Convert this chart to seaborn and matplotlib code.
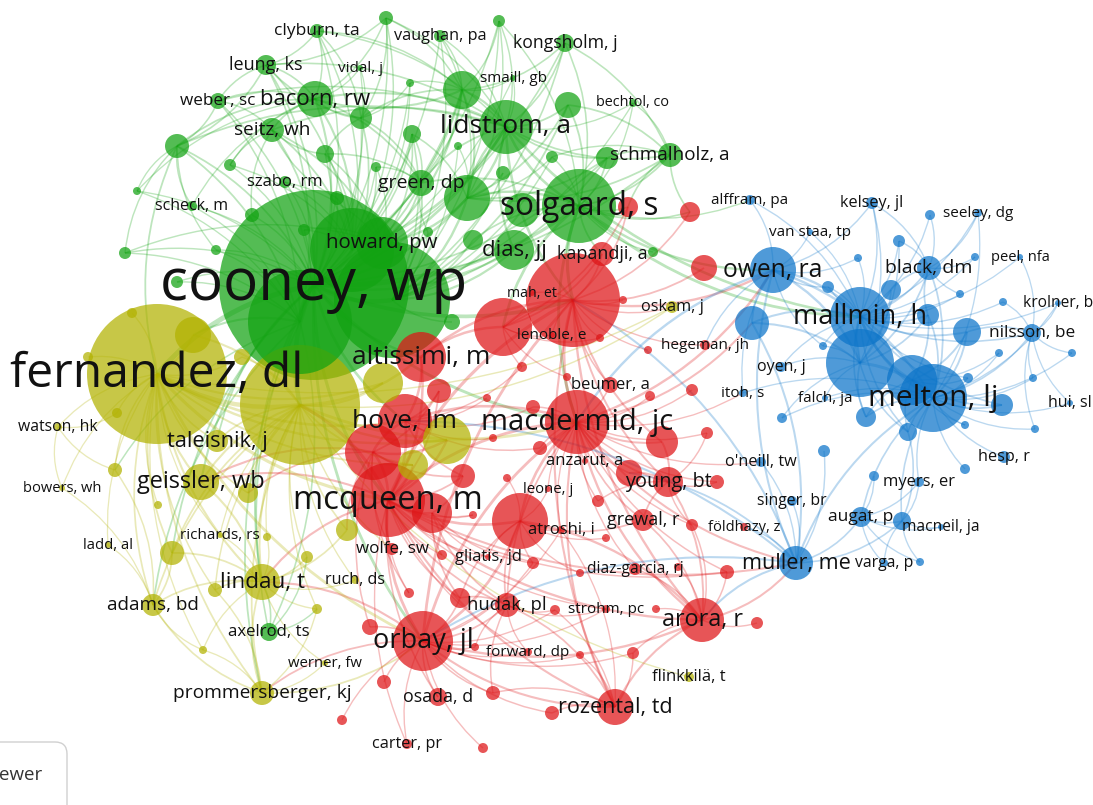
import numpy as np
import pandas as pd
import matplotlib
matplotlib.use("Agg")
import matplotlib.pyplot as plt
from matplotlib.path import Path
from matplotlib.patches import PathPatch, FancyBboxPatch
import seaborn as sns

# nodes: (name, x, y, radius, label size); names starting with "_" carry no label
green_nodes = [
    ("cooney, wp", 314, 285, 95, 42), ("_gb1", 392, 300, 58, 0), ("_gb2", 300, 322, 52, 0),
    ("_gb3", 352, 250, 42, 0), ("howard, pw", 382, 243, 26, 14.7), ("green, dp", 421, 183, 13, 14),
    ("_g3", 467, 198, 23, 0), ("lidstrom, a", 506, 127, 27, 19), ("_g4", 462, 90, 19, 0),
    ("_g5", 568, 105, 13, 0), ("solgaard, s", 579, 206, 37, 22.8), ("_g6", 522, 210, 17, 0),
    ("dias, jj", 514, 250, 20, 15.9), ("bacorn, rw", 315, 99, 18, 15.9), ("leung, ks", 266, 65, 10, 13),
    ("clyburn, ta", 317, 31, 7, 12.5), ("weber, sc", 218, 101, 8, 12.3), ("seitz, wh", 272, 130, 12, 13.7),
    ("_g7", 177, 146, 12, 0), ("_g8", 325, 154, 9, 0), ("_g9", 230, 165, 6, 0),
    ("szabo, rm", 285, 182, 6, 12), ("scheck, m", 192, 206, 5, 11.5), ("_g10", 137, 191, 4, 0),
    ("_g11", 125, 253, 6, 0), ("_g12", 216, 250, 5, 0), ("_g31", 252, 215, 7, 0),
    ("_g32", 304, 230, 6, 0), ("_g33", 337, 198, 7, 0), ("vaughan, pa", 440, 36, 6, 11.7),
    ("_g13", 386, 18, 7, 0), ("_g14", 499, 21, 6, 0), ("kongsholm, j", 565, 43, 9, 12.7),
    ("vidal, j", 360, 68, 3, 11), ("_g15", 410, 83, 4, 0), ("smaill, gb", 513, 78, 3, 11),
    ("bechtol, co", 633, 103, 4, 10.4), ("schmalholz, a", 670, 155, 12, 13.6), ("_g16", 607, 158, 11, 0),
    ("_g17", 552, 157, 6, 0), ("_g18", 412, 134, 9, 0), ("_g19", 361, 118, 11, 0),
    ("_g20", 503, 173, 7, 0), ("_g21", 376, 167, 5, 0), ("_g22", 458, 146, 4, 0),
    ("_g24", 473, 240, 10, 0), ("_g25", 428, 232, 5, 0), ("_g26", 653, 252, 5, 0),
    ("_g29", 177, 282, 6, 0), ("_g34", 452, 322, 8, 0), ("axelrod, ts", 269, 632, 9, 12.1),
]

red_nodes = [
    ("_rbig", 573, 300, 47, 0), ("kapandji, a", 602, 254, 12, 13), ("_r2", 503, 327, 29, 0),
    ("mah, et", 532, 293, 3, 10.2), ("lenoble, e", 552, 335, 3, 11), ("altissimi, m", 421, 357, 25, 19),
    ("hove, lm", 405, 421, 27, 19), ("_r3", 373, 452, 28, 0), ("mcqueen, m", 388, 500, 37, 23.5),
    ("_r4", 432, 513, 20, 0), ("_r5", 439, 391, 12, 0), ("_r6", 463, 476, 12, 0),
    ("_r7", 520, 521, 28, 0), ("atroshi, i", 561, 530, 4, 12), ("macdermid, jc", 577, 422, 32, 21),
    ("_r8", 662, 442, 16, 0), ("young, bt", 668, 482, 15, 14.3), ("_r9", 629, 473, 13, 0),
    ("_r10", 717, 482, 7, 0), ("grewal, r", 643, 520, 11, 13), ("_r11", 692, 525, 6, 0),
    ("_r12", 598, 501, 6, 0), ("_r13", 606, 538, 4, 0), ("_r14", 707, 433, 6, 0),
    ("_r15", 692, 390, 6, 0), ("_r16", 650, 396, 5, 0), ("_r17", 648, 350, 4, 0),
    ("_r18", 623, 300, 4, 0), ("hegeman, jh", 705, 345, 5, 11), ("_r20", 727, 572, 7, 0),
    ("_r21", 580, 573, 4, 0), ("_r22", 533, 563, 6, 0), ("_r23", 442, 555, 5, 0),
    ("_r24", 555, 610, 5, 0), ("strohm, pc", 606, 609, 4, 11), ("_r25", 656, 609, 4, 0),
    ("_r26", 460, 598, 10, 0), ("hudak, pl", 507, 605, 12, 13.2), ("_r27", 370, 627, 8, 0),
    ("_r28", 409, 593, 5, 0), ("_r29", 475, 647, 4, 0), ("forward, dp", 528, 652, 4, 11),
    ("_r30", 580, 655, 4, 0), ("_r31", 633, 653, 6, 0), ("_r32", 384, 682, 7, 0),
    ("osada, d", 438, 697, 9, 12.8), ("_r33", 493, 693, 7, 0), ("_r34", 552, 713, 7, 0),
    ("carter, pr", 407, 744, 5, 11.7), ("_r35", 483, 748, 5, 0), ("_r36", 757, 623, 6, 0),
    ("_r37", 342, 720, 5, 0), ("orbay, jl", 423, 641, 30, 19.5), ("arora, r", 702, 620, 22, 16.8),
    ("rozental, td", 615, 707, 18, 15.5), ("diaz-garcia, rj", 635, 569, 6, 11.2), ("_r38", 678, 567, 4, 0),
    ("_r39", 628, 207, 10, 0), ("_r40", 690, 212, 10, 0), ("_r41", 704, 268, 13, 0),
    ("_r42", 522, 367, 5, 0), ("_r43", 567, 377, 4, 0), ("beumer, a", 610, 385, 8, 12),
    ("_r44", 487, 398, 4, 0), ("_r45", 533, 407, 7, 0), ("_r46", 493, 438, 4, 0),
    ("_r47", 540, 448, 7, 0), ("_r48", 507, 478, 4, 0), ("_r49", 473, 515, 4, 0),
    ("_r50", 600, 338, 4, 0), ("wolfe, sw", 392, 549, 6, 12.2), ("gliatis, jd", 488, 557, 3, 11.8),
    ("anzarut, a", 585, 461, 3, 12), ("leone, j", 548, 489, 3, 10.7), ("földhazy, z", 744, 527, 4, 10.5),
]

blue_nodes = [
    ("mallmin, h", 860, 317, 30, 19.6), ("_b1", 860, 363, 34, 0), ("melton, lj", 933, 398, 34, 21.6),
    ("_b2", 912, 380, 25, 0), ("owen, ra", 773, 270, 23, 17.7), ("_b3", 752, 323, 17, 0),
    ("black, dm", 929, 268, 12, 14), ("_b4", 891, 290, 10, 0), ("_b5", 928, 315, 11, 0),
    ("_b6", 967, 332, 14, 0), ("nilsson, be", 1032, 333, 9, 12.4), ("_b7", 1002, 405, 11, 0),
    ("_b8", 866, 417, 10, 0), ("_b9", 908, 432, 9, 0), ("kelsey, jl", 872, 203, 6, 11.6),
    ("_b10", 930, 215, 5, 0), ("seeley, dg", 978, 213, 4, 11), ("_b11", 899, 241, 6, 0),
    ("_b12", 858, 258, 4, 0), ("_b13", 975, 257, 4, 0), ("peel, nfa", 1020, 257, 3, 10.5),
    ("_b14", 960, 294, 4, 0), ("_b15", 1003, 302, 4, 0), ("krolner, b", 1058, 303, 3, 11.2),
    ("_b16", 1072, 353, 4, 0), ("_b17", 999, 353, 4, 0), ("_b18", 968, 378, 5, 0),
    ("_b19", 1033, 378, 4, 0), ("hui, sl", 1070, 403, 3, 11.5), ("_b20", 965, 425, 4, 0),
    ("_b21", 1035, 429, 4, 0), ("_b22", 828, 287, 6, 0), ("_b23", 823, 346, 4, 0),
    ("oyen, j", 781, 367, 5, 11.5), ("itoh, s", 743, 393, 4, 11), ("alffram, pa", 750, 200, 5, 11),
    ("van staa, tp", 810, 232, 3, 11), ("_b24", 782, 418, 5, 0), ("falch, ja", 825, 398, 3, 11),
    ("_b27", 824, 451, 6, 0), ("o'neill, tw", 761, 462, 5, 11.7), ("singer, br", 792, 501, 5, 11.3),
    ("augat, p", 861, 517, 10, 12.5), ("_b28", 902, 521, 9, 0), ("myers, er", 919, 482, 5, 11.9),
    ("_b29", 874, 476, 5, 0), ("_b30", 965, 469, 5, 0), ("hesp, r", 1004, 457, 6, 11.7),
    ("varga, p", 884, 563, 4, 11.3), ("_b31", 920, 562, 4, 0), ("macneil, ja", 941, 527, 3, 11.2),
    ("muller, me", 796, 563, 17, 15.6),
]

yellow_nodes = [
    ("fernandez, dl", 157, 374, 70, 34.6), ("_ybig", 300, 405, 60, 0), ("taleisnik, j", 217, 441, 11, 15.7),
    ("geissler, wb", 201, 482, 18, 16.9), ("_y1", 248, 493, 10, 0), ("_y2", 115, 470, 7, 0),
    ("watson, hk", 58, 427, 4, 11.3), ("bowers, wh", 62, 488, 3, 10.5), ("_y3", 158, 505, 4, 0),
    ("_y4", 193, 335, 18, 0), ("_y5", 132, 313, 5, 0), ("_y6", 88, 357, 5, 0),
    ("_y7", 242, 357, 8, 0), ("_y8", 117, 413, 5, 0), ("_y9", 383, 383, 20, 0),
    ("_y10", 447, 440, 24, 0), ("_y11", 413, 465, 15, 0), ("_y12", 347, 530, 11, 0),
    ("_y13", 307, 557, 6, 0), ("lindau, t", 262, 582, 18, 16.2), ("adams, bd", 153, 605, 11, 13.6),
    ("_y14", 172, 553, 12, 0), ("_y15", 215, 590, 7, 0), ("_y17", 317, 609, 5, 0),
    ("richards, rs", 220, 535, 3, 11), ("_y18", 267, 537, 4, 0), ("_y19", 203, 650, 4, 0),
    ("prommersberger, kj", 262, 693, 12, 13.8), ("ladd, al", 108, 545, 3, 10.7), ("oskam, j", 672, 307, 6, 11.7),
    ("flinkkilä, t", 689, 677, 5, 12), ("ruch, ds", 355, 580, 4, 11.6), ("werner, fw", 325, 663, 3, 10.7),
]

# co-authorship links: node -> linked nodes
links = {
    "cooney, wp": ["_gb1", "_gb2", "_gb3", "howard, pw", "green, dp", "_g3", "lidstrom, a", "_g4",
                   "solgaard, s", "dias, jj", "bacorn, rw", "leung, ks", "clyburn, ta", "weber, sc",
                   "seitz, wh", "_g7", "_g8", "_g9", "szabo, rm", "scheck, m", "_g10", "_g11", "_g12",
                   "vaughan, pa", "_g13", "_g14", "kongsholm, j", "vidal, j", "smaill, gb", "schmalholz, a",
                   "_g16", "_g19", "_g18", "_g29", "_g31", "fernandez, dl", "_ybig", "altissimi, m",
                   "hove, lm", "mcqueen, m", "lindau, t", "geissler, wb", "taleisnik, j", "_rbig",
                   "macdermid, jc", "orbay, jl", "axelrod, ts", "_y14", "_g15", "_g21", "_g33"],
    "_gb1": ["_g3", "_g24", "dias, jj", "_g34", "green, dp", "_g18", "_g20", "_g22", "_g6",
             "kongsholm, j", "_g5", "_g16", "_g25", "_g17", "_g14", "vaughan, pa", "bechtol, co"],
    "_gb2": ["_g11", "_g29", "_y4", "_g12", "_g7", "_g10", "adams, bd", "_y2", "prommersberger, kj",
             "_g32", "scheck, m", "weber, sc", "leung, ks"],
    "_gb3": ["_g8", "_g18", "_g19", "_g21", "_g33", "_g32", "seitz, wh", "bacorn, rw", "_g4",
             "lidstrom, a", "_g9", "szabo, rm", "leung, ks", "_g13", "clyburn, ta", "_g15"],
    "_g3": ["_g4", "_g18", "_g22", "_g20", "lidstrom, a", "_g5", "_g16", "_g17", "schmalholz, a",
            "_g14", "vaughan, pa"],
    "green, dp": ["_g8", "_g19", "_g18", "_g4", "bacorn, rw", "_g21", "_g25"],
    "_g19": ["_g13", "clyburn, ta", "vidal, j", "_g15", "_g8"],
    "schmalholz, a": ["_g16", "_g17", "_g5", "bechtol, co", "kongsholm, j", "_r39", "_r40"],
    "lidstrom, a": ["solgaard, s", "_g4", "_g5", "kongsholm, j", "_g14", "bechtol, co", "schmalholz, a",
                    "_g16", "bacorn, rw", "leung, ks", "clyburn, ta", "_g13", "vaughan, pa", "green, dp",
                    "_g3", "seitz, wh", "_g7", "weber, sc", "dias, jj", "_rbig", "mallmin, h", "smaill, gb"],
    "solgaard, s": ["_g5", "_g16", "schmalholz, a", "kongsholm, j", "bechtol, co", "_g17", "_g3",
                    "green, dp", "_g24", "_g26", "_rbig", "kapandji, a", "owen, ra", "mallmin, h", "_r2",
                    "macdermid, jc", "_g14", "_r39", "_r40", "alffram, pa"],
    "bacorn, rw": ["leung, ks", "clyburn, ta", "weber, sc", "seitz, wh", "_g7", "_g13", "_g4", "_g19",
                   "_g9", "scheck, m", "_g10", "vidal, j"],
    "_g7": ["_g10", "_g11", "scheck, m", "weber, sc", "leung, ks", "_g12", "fernandez, dl"],
    "_g4": ["_g14", "_g13", "vaughan, pa", "kongsholm, j", "_g15", "_g19", "clyburn, ta", "smaill, gb"],
    "howard, pw": ["green, dp", "_g3", "seitz, wh", "_g8", "_g18", "_g21", "_g4", "_g11", "szabo, rm", "_g32"],
    "seitz, wh": ["_g9", "_g31", "weber, sc", "_g8", "_g33"],
    "leung, ks": ["clyburn, ta", "_g13", "weber, sc", "_g19"],
    "axelrod, ts": ["lindau, t", "_gb2", "_y17", "_y13"],
    "_rbig": ["kapandji, a", "_r2", "mah, et", "lenoble, e", "altissimi, m", "macdermid, jc", "_r18",
              "_r39", "_r40", "_r41", "beumer, a", "hegeman, jh", "_r17", "young, bt", "_r8",
              "mcqueen, m", "orbay, jl", "arora, r", "rozental, td", "oskam, j", "owen, ra", "_r50"],
    "macdermid, jc": ["_r8", "young, bt", "_r9", "grewal, r", "_r10", "_r11", "_r12", "_r14", "_r15",
                      "_r16", "anzarut, a", "leone, j", "atroshi, i", "_r7", "hove, lm", "mcqueen, m",
                      "orbay, jl", "arora, r", "rozental, td", "hudak, pl", "diaz-garcia, rj", "_r20",
                      "muller, me", "owen, ra", "_r45", "_r47", "beumer, a", "_r43", "_b3", "itoh, s",
                      "o'neill, tw"],
    "mcqueen, m": ["hove, lm", "_r3", "_r4", "_r5", "_r6", "altissimi, m", "_r7", "wolfe, sw",
                   "gliatis, jd", "orbay, jl", "hudak, pl", "lindau, t", "geissler, wb", "_ybig", "_y10",
                   "_y11", "rozental, td", "osada, d", "carter, pr", "arora, r", "_r20", "strohm, pc",
                   "forward, dp", "_r23", "_r28", "_r26", "_r49", "muller, me"],
    "_r3": ["_r5", "_r6", "_y10", "_y11", "_y12", "wolfe, sw", "_r27", "_r28", "geissler, wb", "_y1"],
    "_r4": ["_r6", "_r26", "_r23", "gliatis, jd", "_r49", "_r22", "hudak, pl"],
    "orbay, jl": ["osada, d", "carter, pr", "hudak, pl", "_r26", "_r27", "_r29", "_r32", "_r33",
                  "_r34", "_r35", "rozental, td", "arora, r", "forward, dp", "strohm, pc", "_r24",
                  "_r30", "_r31", "prommersberger, kj", "lindau, t", "_r7", "atroshi, i", "_r37", "_r22"],
    "hudak, pl": ["_r24", "_r29", "forward, dp", "_r33", "strohm, pc", "_r26"],
    "young, bt": ["_r9", "_r10", "_r11", "_r12", "grewal, r", "_r8", "_r14"],
    "arora, r": ["rozental, td", "_r20", "young, bt", "grewal, r", "diaz-garcia, rj", "_r36", "_r31",
                 "muller, me", "_r7", "_r25", "_r38", "_r11"],
    "rozental, td": ["_r34", "_r31", "hudak, pl", "atroshi, i", "_r33", "_r30", "_r24"],
    "_r7": ["atroshi, i", "gliatis, jd", "_r22", "hudak, pl", "_r26", "leone, j", "grewal, r",
            "_r21", "_r13", "_r48"],
    "hove, lm": ["_r5", "_r6", "_r44", "_r45", "_r46", "_r47", "_r42", "_r3", "altissimi, m"],
    "_r2": ["mah, et", "lenoble, e", "_r42", "_r43", "_r50", "kapandji, a", "_r39", "altissimi, m"],
    "mallmin, h": ["_b1", "melton, lj", "_b2", "owen, ra", "_b3", "black, dm", "_b4", "_b5", "_b6",
                   "nilsson, be", "_b7", "_b8", "_b9", "kelsey, jl", "_b10", "seeley, dg", "_b11",
                   "_b12", "_b13", "peel, nfa", "_b14", "_b15", "krolner, b", "_b22", "_b23", "oyen, j",
                   "van staa, tp", "alffram, pa", "_b18"],
    "melton, lj": ["_b1", "_b2", "_b6", "nilsson, be", "_b7", "_b8", "_b9", "hui, sl", "_b16", "_b17",
                   "_b18", "_b19", "_b20", "_b21", "hesp, r", "_b30", "myers, er", "augat, p", "_b28",
                   "muller, me", "falch, ja", "_b24", "black, dm", "_b5", "seeley, dg", "krolner, b",
                   "itoh, s", "owen, ra"],
    "_b1": ["owen, ra", "_b3", "_b4", "_b5", "black, dm", "_b8", "_b9", "_b22", "_b23", "oyen, j",
            "_b24", "falch, ja", "_b11", "kelsey, jl"],
    "_b2": ["_b6", "_b7", "_b18", "_b20", "_b9", "_b8", "_b5", "_b17"],
    "owen, ra": ["_b3", "_b22", "alffram, pa", "van staa, tp", "_b12", "macdermid, jc", "muller, me",
                 "hegeman, jh", "_b23", "kelsey, jl", "itoh, s"],
    "muller, me": ["augat, p", "_b28", "singer, br", "o'neill, tw", "_b27", "földhazy, z", "_b3",
                   "orbay, jl", "_rbig", "arora, r", "hove, lm", "_r9"],
    "augat, p": ["_b28", "myers, er", "_b29", "varga, p", "_b31", "macneil, ja"],
    "_b28": ["myers, er", "macneil, ja", "varga, p", "_b31", "_b9"],
    "nilsson, be": ["_b6", "_b15", "krolner, b", "_b19", "hui, sl", "_b21", "_b16", "peel, nfa"],
    "black, dm": ["_b10", "seeley, dg", "_b11", "_b5", "_b4", "_b14", "kelsey, jl", "_b13"],
    "fernandez, dl": ["_ybig", "taleisnik, j", "geissler, wb", "_y1", "_y2", "watson, hk", "bowers, wh",
                      "_y3", "_y4", "_y5", "_y6", "_y7", "_y8", "lindau, t", "adams, bd", "_y14", "_y15",
                      "richards, rs", "ladd, al", "prommersberger, kj", "_y9", "_y10", "_y11",
                      "mcqueen, m", "hove, lm", "orbay, jl", "_y19", "oskam, j"],
    "_ybig": ["taleisnik, j", "geissler, wb", "_y1", "_y9", "_y10", "_y11", "lindau, t", "adams, bd",
              "_y14", "_y15", "_y13", "_y17", "prommersberger, kj", "richards, rs", "_y4", "_y7",
              "altissimi, m", "macdermid, jc", "flinkkilä, t", "oskam, j", "wolfe, sw", "ruch, ds",
              "_y12", "_y18"],
    "lindau, t": ["adams, bd", "_y14", "_y15", "_y13", "_y17", "prommersberger, kj", "richards, rs",
                  "geissler, wb", "_y19", "ruch, ds", "werner, fw", "_y12", "_y18"],
    "adams, bd": ["_y14", "ladd, al", "_y19", "prommersberger, kj", "_y2", "bowers, wh"],
    "prommersberger, kj": ["_y19", "_y17", "_y15", "werner, fw", "orbay, jl"],
    "watson, hk": ["_y2", "bowers, wh", "_y8"],
}

cluster_colors = {"green": "#12a312", "red": "#de1416", "blue": "#0b74c9", "yellow": "#b2b200"}

rows = []
for cl, lst in [("green", green_nodes), ("red", red_nodes), ("blue", blue_nodes), ("yellow", yellow_nodes)]:
    for name, x, y, r, fs in lst:
        rows.append(dict(name=name, x=x, y=y, r=r, fs=fs, cluster=cl))
nodes = pd.DataFrame(rows)
# marker area in pt^2 so that the circle radius matches r pixels at 100 dpi
nodes["area"] = (2 * nodes["r"] * 0.72) ** 2
nodes = nodes.sort_values("r", ascending=False).reset_index(drop=True)
pos = {n: (x, y, r, c) for n, x, y, r, c in zip(nodes.name, nodes.x, nodes.y, nodes.r, nodes.cluster)}

sns.set_style("white")
plt.rcParams["font.family"] = ["Open Sans", "DejaVu Sans"]

fig = plt.figure(figsize=(10.93, 8.05), dpi=100)
ax = fig.add_axes([0, 0, 1, 1])

# curved links
for src, targets in links.items():
    for dst in targets:
        if src not in pos or dst not in pos:
            continue
        x0, y0, r0, c0 = pos[src]
        x1, y1, r1, c1 = pos[dst]
        dx, dy = x1 - x0, y1 - y0
        cx, cy = (x0 + x1) / 2 - 0.18 * dy, (y0 + y1) / 2 + 0.18 * dx
        path = Path([(x0, y0), (cx, cy), (x1, y1)], [Path.MOVETO, Path.CURVE3, Path.CURVE3])
        lw = 0.8 + min(r0, r1) / 25
        ax.add_patch(PathPatch(path, fc="none", ec=cluster_colors[c0], lw=lw, alpha=0.28, zorder=1))

sns.scatterplot(data=nodes, x="x", y="y", hue="cluster", palette=cluster_colors,
                size="area", sizes=(nodes.area.min(), nodes.area.max()),
                size_norm=(nodes.area.min(), nodes.area.max()),
                alpha=0.72, linewidth=0, legend=False, ax=ax, zorder=2)
ax.set_xlim(0, 1093)
ax.set_ylim(805, 0)
ax.axis("off")

for _, row in nodes.iterrows():
    if row["name"].startswith("_"):
        continue
    ax.text(row.x, row.y, row["name"], ha="center", va="center", fontsize=row.fs,
            color="#111111", zorder=3)

# cropped viewer button at the lower left
ax.add_patch(FancyBboxPatch((-30, 742), 97, 90, boxstyle="round,pad=0,rounding_size=12",
                            fc="white", ec="#d0d0d0", lw=1, zorder=4))
ax.text(-1, 775, "ewer", ha="left", va="center", fontsize=13.5, color="#333333", zorder=5)

fig.savefig("out.png", dpi=100)
